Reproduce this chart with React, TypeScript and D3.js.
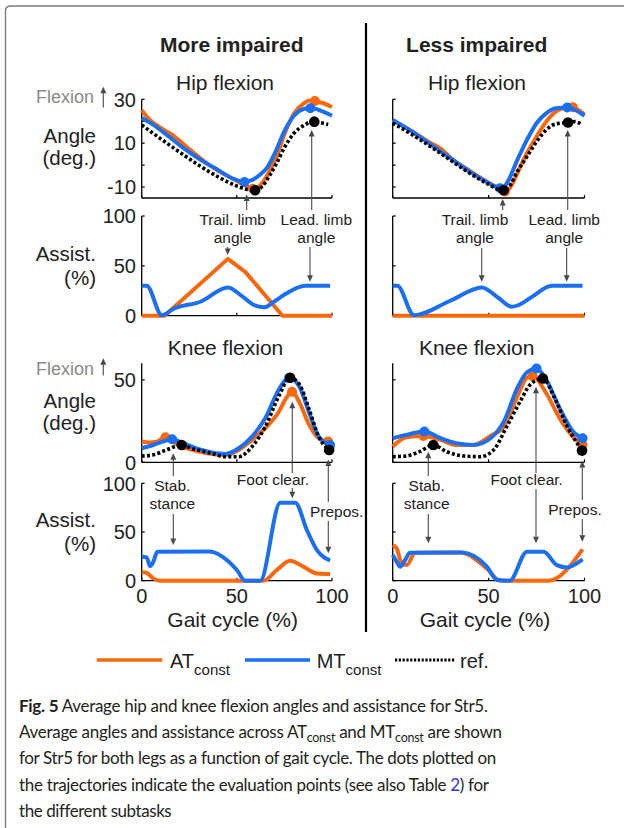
import React, { useRef, useLayoutEffect } from 'react';
import * as d3 from 'd3';

type Pt = [number, number];

// ---------- axis ticks ----------
const gaitTicks = [0, 50, 100];
const hipAngleTicks = [-10, 0, 10, 20, 30];
const hipAngleLabels = [-10, 10, 30];
const kneeAngleTicks = [0, 50];
const assistTicks = [0, 50, 100];

// ---------- hip angle (deg) : [gait %, angle] ----------
const hipMoreAT: Pt[] = [[0, 25], [4.4, 20.5], [9.6, 17.2], [16.6, 13.5], [22, 9.5], [31, 3], [40, -2.5], [48.6, -6.5], [55, -9.5], [59, -11], [63, -8.5], [67, -3], [71, 4], [75, 14], [80, 23.5], [85, 28], [88, 29.5], [91, 29], [95, 28.3], [100, 26.5]];
const hipMoreMT: Pt[] = [[0, 21.5], [5, 19], [13.2, 13.8], [22, 7.7], [31, 2.4], [39.8, -2.1], [48.6, -6.4], [54, -7.7], [58, -6.8], [62, -4.5], [66, -1], [70, 5.5], [75, 15.5], [80, 22.5], [85, 25.5], [89, 26], [95, 24.5], [100, 22.5]];
const hipMoreRef: Pt[] = [[0, 18.3], [13.2, 10], [22, 4.7], [31, -0.6], [39.8, -5.2], [48.6, -9], [55, -11], [60, -11.5], [63, -10], [67, -5], [71, 1], [75, 8], [80, 14.5], [85, 18], [90.7, 19.8], [94, 19.3], [98, 18.5]];
const hipLessAT: Pt[] = [[0, 20.5], [10, 15.5], [20, 10], [25, 7.5], [30, 3.5], [40, -2.5], [50, -8], [55, -10.5], [58, -12], [61, -10.5], [65, -3.6], [70, 5.5], [75, 13], [80, 19.8], [85, 24.4], [90, 26.3], [94, 26.5], [97, 25], [100, 23]];
const hipLessMT: Pt[] = [[0, 20.6], [10, 15.3], [20, 9.2], [30, 3.2], [40, -2.9], [50, -8.2], [56, -10.5], [58, -10], [60, -7.5], [65, 2.4], [70, 11.5], [75, 19.1], [80, 23.6], [85, 25.9], [91, 26.3], [95, 25.1], [100, 22.5]];
const hipLessRef: Pt[] = [[0, 19.1], [10, 14], [20, 8.3], [30, 2.3], [40, -3.6], [50, -8.8], [55, -11], [58, -11.5], [61, -9.5], [65, -2.9], [70, 3.9], [75, 10.7], [80, 16], [85, 18.8], [91.4, 19.4], [95, 19.8], [98, 18.8]];

// evaluation dots (hip)
const hipMoreATDots: Pt[] = [[58.5, -10.8], [91, 29.2]];
const hipMoreMTDots: Pt[] = [[54, -7.7], [88.6, 25.9]];
const hipMoreRefDots: Pt[] = [[59.6, -11.5], [90.7, 19.8]];
const hipLessATDots: Pt[] = [[58.5, -12], [94, 26.4]];
const hipLessMTDots: Pt[] = [[56, -10.5], [91, 26.3]];
const hipLessRefDots: Pt[] = [[57.8, -11.5], [91.4, 19.4]];

// ---------- hip assistance (%) ----------
const hipAssistMoreAT: Pt[] = [[0, 0], [12, 0], [45.3, 57], [54.4, 44], [74, 0], [100, 0]];
const hipAssistMoreMT: Pt[] = [[0, 30], [2.6, 30], [10.6, 0.5], [16.8, 7], [30.9, 14], [45.3, 28.4], [52, 20.7], [59, 10.7], [64.3, 8.4], [69.5, 14], [74.7, 20.7], [86.1, 30], [99, 30]];
const hipAssistLessAT: Pt[] = [[0, 0], [100, 0]];
const hipAssistLessMT: Pt[] = [[0, 30], [2.4, 30], [11.1, 0.5], [30, 15], [46.5, 28.4], [55, 18], [62.1, 9], [66, 11], [72.6, 18.9], [83, 30], [99, 30]];

// ---------- knee angle (deg) ----------
const kneeMoreAT: Pt[] = [[0, 12.6], [4, 12], [8, 12.5], [12.5, 15.2], [16, 13], [20, 10], [25, 8], [30, 6.5], [37, 5], [44, 4.5], [51, 7.5], [58, 13.6], [65, 20.7], [72, 30.5], [76, 39], [79, 42.7], [83, 36], [88, 22.7], [93, 14.6], [98, 12.6]];
const kneeMoreMT: Pt[] = [[0, 8.5], [6, 10.5], [11, 12.5], [16, 14], [20, 12.5], [24, 10.5], [30, 7.9], [37, 5.9], [44, 5], [51, 8.5], [58, 15.6], [65, 26.8], [72, 44], [77.5, 51.2], [83, 45.5], [88, 30], [93, 15.6], [99, 10.5]];
const kneeMoreRef: Pt[] = [[0, 3.8], [6, 4.5], [13, 7.5], [21, 10.5], [27, 8], [30, 7.3], [37, 5.3], [44, 3.4], [51, 3.4], [58, 9.5], [65, 21.7], [72, 40], [78, 51.2], [83, 47], [88, 32], [93, 15.6], [98.5, 7.5]];
const kneeLessAT: Pt[] = [[0, 9.5], [7, 15.2], [16, 16], [25, 13.6], [33, 10.5], [42, 10.5], [51, 16], [58, 21.7], [65, 40], [70, 51.2], [73, 52.2], [80, 42], [87, 26.8], [94, 15.6], [99, 10.5]];
const kneeLessMT: Pt[] = [[0, 14.6], [7, 16.6], [16.5, 18.7], [25, 14.6], [33, 11.6], [42, 10.5], [51, 14.6], [58, 24.8], [65, 45.1], [70, 54.6], [75, 56.9], [80, 50.2], [87, 32.9], [94, 18.7], [99, 14.6]];
const kneeLessRef: Pt[] = [[0, 3.4], [7, 3.8], [14, 6.5], [21.2, 10.5], [28, 6.5], [37, 3.8], [45.6, 3.4], [52.6, 7.5], [59.5, 21.7], [66.5, 37], [71.7, 47.1], [78.3, 50.8], [84, 40], [91, 21.7], [98.7, 7.1]];

// evaluation dots (knee)
const kneeMoreATDots: Pt[] = [[12.5, 15.2], [79, 42.7], [98, 12.6]];
const kneeMoreMTDots: Pt[] = [[16, 14], [77.5, 51.2], [99, 10.5]];
const kneeMoreRefDots: Pt[] = [[21, 10.5], [78, 51.2], [98.5, 7.5]];
const kneeLessATDots: Pt[] = [[16, 16], [73, 52.2], [99, 10.5]];
const kneeLessMTDots: Pt[] = [[16.5, 18.7], [75, 56.9], [99, 14.6]];
const kneeLessRefDots: Pt[] = [[21.2, 10.5], [78.3, 50.8], [98.7, 7.1]];

// ---------- knee assistance (%) ----------
const kneeAssistMoreAT: Pt[] = [[0, 9], [2.6, 8], [6.1, 2.4], [9.6, 0], [64, 0], [71, 11], [78, 20.5], [85, 14.4], [92, 7.5], [99, 7]];
const kneeAssistMoreMT: Pt[] = [[0, 24.6], [2.6, 24], [4.4, 15], [6.1, 19.4], [8.2, 29.7], [35.1, 30], [50, 11], [54.4, 0], [62.3, 0], [72.8, 80], [80.7, 80], [86.8, 52], [92.1, 31.5], [96.5, 23], [99, 21]];
const kneeAssistLessAT: Pt[] = [[0, 36.6], [2.1, 33], [4.7, 17.8], [7.3, 16], [11.7, 28.6], [35.2, 29], [49, 12.6], [56, 0], [81.3, 0], [99, 32.2]];
const kneeAssistLessMT: Pt[] = [[0, 26.4], [2.1, 19.5], [3.8, 14.4], [6.4, 21], [9, 28.6], [36, 29], [49.1, 14.4], [54.3, 1], [61, 0], [70, 29.7], [78.7, 29.7], [85.6, 16], [90.9, 13.6], [94.3, 16], [99, 22]];

// ---------- caption ----------
const captionWidths = [468.7, 482.7, 476.7, 470, 151.7];

// ---------- styles ----------
const ORANGE = '#fa680c';
const BLUE = '#1a6ff4';
const FONT = "'Liberation Sans', Arial, Helvetica, sans-serif";
const CAP_FONT = "Lato, 'Open Sans', sans-serif";
const AC = '#4a4a4a';
const TXT = '#222';

// ---------- scales ----------
const xL = d3.scaleLinear().domain([0, 100]).range([141.7, 332]);
const xR = d3.scaleLinear().domain([0, 100]).range([392.7, 584.5]);
const yHip = d3.scaleLinear().domain([-15, 30]).range([198, 99.3]);
const yHipA = d3.scaleLinear().domain([0, 100]).range([315.7, 216]);
const yKnee = d3.scaleLinear().domain([0, 60]).range([462.3, 363.3]);
const yKneeA = d3.scaleLinear().domain([0, 100]).range([580.7, 483.3]);

type Scale = d3.ScaleLinear<number, number>;

const Axes = ({ x, y, yt, labels, xLabels }: { x: Scale; y: Scale; yt: number[]; labels: number[] | null; xLabels?: boolean }) => {
  const x0 = x(0);
  const y0 = y.range()[0];
  const yTop = y.range()[1];
  return (
    <g>
      <line x1={x0} x2={x0} y1={y0} y2={yTop} stroke="#000" strokeWidth={1.3} />
      <line x1={x0} x2={x(100)} y1={y0} y2={y0} stroke="#000" strokeWidth={1.3} />
      {yt.map((t) => (
        <line key={'yt' + t} x1={x0} x2={x0 + 3} y1={y(t)} y2={y(t)} stroke="#000" strokeWidth={1.2} />
      ))}
      {gaitTicks.map((t) => (
        <line key={'xt' + t} x1={x(t)} x2={x(t)} y1={y0} y2={y0 - 3} stroke="#000" strokeWidth={1.2} />
      ))}
      {labels &&
        labels.map((t) => (
          <text key={'yl' + t} x={136} y={y(t)} dy="0.36em" textAnchor="end" fontSize={20} fontFamily={FONT} fill={TXT}>
            {t < 0 ? '-' + Math.abs(t) : String(t)}
          </text>
        ))}
      {xLabels &&
        gaitTicks.map((t) => (
          <text key={'xl' + t} x={x(t)} y={603.3} textAnchor="middle" fontSize={20} fontFamily={FONT} fill={TXT}>
            {t}
          </text>
        ))}
    </g>
  );
};

const Series = ({ x, y, at, mt, ref_, atDots, mtDots, refDots, atCurve }: {
  x: Scale; y: Scale; at: Pt[]; mt: Pt[]; ref_?: Pt[]; atDots?: Pt[]; mtDots?: Pt[]; refDots?: Pt[]; atCurve?: d3.CurveFactory;
}) => {
  const mk = (c: d3.CurveFactory) => d3.line<Pt>().x((d) => x(d[0])).y((d) => y(d[1])).curve(c);
  const lg = mk(d3.curveMonotoneX);
  const la = mk(atCurve || d3.curveMonotoneX);
  return (
    <g>
      <path d={la(at) || ''} fill="none" stroke={ORANGE} strokeWidth={4} strokeLinejoin="round" />
      {atDots && atDots.map((d, i) => <circle key={'ad' + i} cx={x(d[0])} cy={y(d[1])} r={5} fill={ORANGE} />)}
      <path d={lg(mt) || ''} fill="none" stroke={BLUE} strokeWidth={4} strokeLinejoin="round" />
      {mtDots && mtDots.map((d, i) => <circle key={'md' + i} cx={x(d[0])} cy={y(d[1])} r={5} fill={BLUE} />)}
      {ref_ && <path d={lg(ref_) || ''} fill="none" stroke="#000" strokeWidth={3.6} strokeDasharray="3 2.3" />}
      {refDots && refDots.map((d, i) => <circle key={'rd' + i} cx={x(d[0])} cy={y(d[1])} r={5.3} fill="#000" />)}
    </g>
  );
};

const Arrow = ({ x, from, to }: { x: number; from: number; to: number }) => {
  const dir = to < from ? -1 : 1;
  const hl = 6.5;
  const hw = 3;
  return (
    <g>
      <line x1={x} x2={x} y1={from} y2={to - dir * hl * 0.7} stroke={AC} strokeWidth={1.1} />
      <path d={`M${x},${to} L${x - hw},${to - dir * hl} L${x + hw},${to - dir * hl} Z`} fill={AC} />
    </g>
  );
};

const Ann = ({ x, y, lines }: { x: number; y: number; lines: string[] }) => (
  <g>
    {lines.map((l, i) => (
      <text key={i} x={x} y={y + i * 18} textAnchor="middle" fontSize={15.5} fontFamily={FONT} fill={TXT}>{l}</text>
    ))}
  </g>
);

const YLab = ({ lines, ys }: { lines: string[]; ys: number[] }) => (
  <g>
    {lines.map((l, i) => (
      <text key={i} x={96} y={ys[i]} textAnchor="end" fontSize={20.5} fontFamily={FONT} fill={TXT}>{l}</text>
    ))}
  </g>
);

const FlexLab = ({ base, a1, a2 }: { base: number; a1: number; a2: number }) => (
  <g>
    <text x={36} y={base} fontSize={18} fontFamily={FONT} fill="#8a8a8a">Flexion</text>
    <Arrow x={103.3} from={a1} to={a2} />
  </g>
);

export default function App() {
  const capRefs = useRef<(SVGTextElement | null)[]>([]);
  useLayoutEffect(() => {
    capRefs.current.forEach((el, i) => {
      if (!el) return;
      el.style.letterSpacing = '0px';
      const natural = el.getComputedTextLength();
      const n = (el.textContent || '').length;
      if (n > 0) el.style.letterSpacing = ((captionWidths[i] - natural) / n).toFixed(3) + 'px';
    });
  }, []);
  const setRef = (i: number) => (el: SVGTextElement | null) => { capRefs.current[i] = el; };

  return (
    <svg width={624} height={828} style={{ position: 'absolute', left: 0, top: 0, background: '#fff' }}>
      <rect x={0} y={0} width={624} height={828} fill="#fff" />
      {/* frame */}
      <path d="M5.5,828 L5.5,11 Q5.5,6 10.5,6 L624,6" fill="none" stroke="#7a7a7a" strokeWidth={1.4} />
      {/* divider */}
      <line x1={366} x2={366} y1={23} y2={632} stroke="#000" strokeWidth={2.2} />

      {/* headings */}
      <text x={231.7} y={52.3} textAnchor="middle" fontSize={21} fontWeight="bold" fontFamily={FONT} fill={TXT}>More impaired</text>
      <text x={476.7} y={52.3} textAnchor="middle" fontSize={21} fontWeight="bold" fontFamily={FONT} fill={TXT}>Less impaired</text>
      <text x={225} y={90} textAnchor="middle" fontSize={21} fontFamily={FONT} fill={TXT}>Hip flexion</text>
      <text x={477} y={90} textAnchor="middle" fontSize={21} fontFamily={FONT} fill={TXT}>Hip flexion</text>
      <text x={225.5} y={355} textAnchor="middle" fontSize={21} fontFamily={FONT} fill={TXT}>Knee flexion</text>
      <text x={476.7} y={355} textAnchor="middle" fontSize={21} fontFamily={FONT} fill={TXT}>Knee flexion</text>

      {/* y labels */}
      <FlexLab base={103.3} a1={107.5} a2={86.7} />
      <YLab lines={['Angle', '(deg.)']} ys={[143.3, 165]} />
      <YLab lines={['Assist.', '(%)']} ys={[260.7, 285]} />
      <FlexLab base={375} a1={375.5} a2={358.3} />
      <YLab lines={['Angle', '(deg.)']} ys={[408.3, 430]} />
      <YLab lines={['Assist.', '(%)']} ys={[526.7, 550.7]} />

      {/* axes */}
      <Axes x={xL} y={yHip} yt={hipAngleTicks} labels={hipAngleLabels} />
      <Axes x={xR} y={yHip} yt={hipAngleTicks} labels={null} />
      <Axes x={xL} y={yHipA} yt={assistTicks} labels={assistTicks} />
      <Axes x={xR} y={yHipA} yt={assistTicks} labels={null} />
      <Axes x={xL} y={yKnee} yt={kneeAngleTicks} labels={kneeAngleTicks} />
      <Axes x={xR} y={yKnee} yt={kneeAngleTicks} labels={null} />
      <Axes x={xL} y={yKneeA} yt={assistTicks} labels={assistTicks} xLabels />
      <Axes x={xR} y={yKneeA} yt={assistTicks} labels={null} xLabels />

      {/* data */}
      <Series x={xL} y={yHip} at={hipMoreAT} mt={hipMoreMT} ref_={hipMoreRef} atDots={hipMoreATDots} mtDots={hipMoreMTDots} refDots={hipMoreRefDots} />
      <Series x={xR} y={yHip} at={hipLessAT} mt={hipLessMT} ref_={hipLessRef} atDots={hipLessATDots} mtDots={hipLessMTDots} refDots={hipLessRefDots} />
      <Series x={xL} y={yHipA} at={hipAssistMoreAT} mt={hipAssistMoreMT} atCurve={d3.curveLinear} />
      <Series x={xR} y={yHipA} at={hipAssistLessAT} mt={hipAssistLessMT} />
      <Series x={xL} y={yKnee} at={kneeMoreAT} mt={kneeMoreMT} ref_={kneeMoreRef} atDots={kneeMoreATDots} mtDots={kneeMoreMTDots} refDots={kneeMoreRefDots} />
      <Series x={xR} y={yKnee} at={kneeLessAT} mt={kneeLessMT} ref_={kneeLessRef} atDots={kneeLessATDots} mtDots={kneeLessMTDots} refDots={kneeLessRefDots} />
      <Series x={xL} y={yKneeA} at={kneeAssistMoreAT} mt={kneeAssistMoreMT} />
      <Series x={xR} y={yKneeA} at={kneeAssistLessAT} mt={kneeAssistLessMT} />

      {/* x labels */}
      <text x={232.7} y={626.7} textAnchor="middle" fontSize={21} fontFamily={FONT} fill={TXT}>Gait cycle (%)</text>
      <text x={485} y={626.7} textAnchor="middle" fontSize={21} fontFamily={FONT} fill={TXT}>Gait cycle (%)</text>

      {/* hip annotations */}
      <Ann x={232.7} y={225} lines={['Trail. limb', 'angle']} />
      <Ann x={316.3} y={225} lines={['Lead. limb', 'angle']} />
      <Arrow x={246.7} from={210} to={194.5} />
      <Arrow x={311.7} from={210} to={130} />
      <Arrow x={227.7} from={247} to={255} />
      <Arrow x={310} from={247} to={281.7} />
      <Ann x={475} y={225} lines={['Trail. limb', 'angle']} />
      <Ann x={564.2} y={225} lines={['Lead. limb', 'angle']} />
      <Arrow x={502.7} from={210} to={199} />
      <Arrow x={567.7} from={210} to={130} />
      <Arrow x={481.7} from={248} to={281.7} />
      <Arrow x={566.7} from={248} to={281.7} />

      {/* knee annotations */}
      <Ann x={172.3} y={490.7} lines={['Stab.', 'stance']} />
      <Arrow x={173.3} from={476} to={453.3} />
      <Arrow x={173.3} from={514} to={545} />
      <Ann x={273} y={485} lines={['Foot clear.']} />
      <Arrow x={292.3} from={473} to={401.7} />
      <Arrow x={292.3} from={488} to={498.3} />
      <Ann x={336.7} y={516.5} lines={['Prepos.']} />
      <Arrow x={328.3} from={502} to={459.5} />
      <Arrow x={328.3} from={521} to={553.3} />

      <Ann x={426.7} y={490.7} lines={['Stab.', 'stance']} />
      <Arrow x={428.3} from={476} to={451.7} />
      <Arrow x={428.3} from={514} to={543.3} />
      <Ann x={526.7} y={485} lines={['Foot clear.']} />
      <Arrow x={536} from={473} to={386.7} />
      <Arrow x={536} from={489} to={543.3} />
      <Ann x={575} y={515} lines={['Prepos.']} />
      <Arrow x={582.3} from={500} to={461} />
      <Arrow x={582.3} from={519} to={541.7} />

      {/* legend */}
      <line x1={96.7} x2={162.3} y1={660} y2={660} stroke={ORANGE} strokeWidth={3.5} />
      <text x={170} y={668} fontSize={20} fontFamily={FONT} fill={TXT}>AT<tspan dy={7} fontSize={15}>const</tspan></text>
      <line x1={245} x2={310} y1={660} y2={660} stroke={BLUE} strokeWidth={3.5} />
      <text x={316.7} y={668} fontSize={20} fontFamily={FONT} fill={TXT}>MT<tspan dy={7} fontSize={15}>const</tspan></text>
      <line x1={395} x2={455} y1={660} y2={660} stroke="#000" strokeWidth={3.2} strokeDasharray="2.2 1.6" />
      <text x={460} y={668} fontSize={20} fontFamily={FONT} fill={TXT}>ref.</text>

      {/* caption */}
      <g fontFamily={CAP_FONT} fontSize={17} fill="#231f20">
        <text ref={setRef(0)} x={19} y={711.7}>
          <tspan fontWeight="bold">Fig. 5</tspan> Average hip and knee flexion angles and assistance for Str5.
        </text>
        <text ref={setRef(1)} x={19} y={737.7}>
          Average angles and assistance across AT<tspan dy={4} fontSize={12.5}>const</tspan><tspan dy={-4}> and MT</tspan><tspan dy={4} fontSize={12.5}>const</tspan><tspan dy={-4}> are shown</tspan>
        </text>
        <text ref={setRef(2)} x={19} y={764}>
          for Str5 for both legs as a function of gait cycle. The dots plotted on
        </text>
        <text ref={setRef(3)} x={19} y={790.7}>
          the trajectories indicate the evaluation points (see also Table <tspan fill="#3535d0">2</tspan>) for
        </text>
        <text ref={setRef(4)} x={19} y={816.7}>
          the different subtasks
        </text>
      </g>
    </svg>
  );
}
